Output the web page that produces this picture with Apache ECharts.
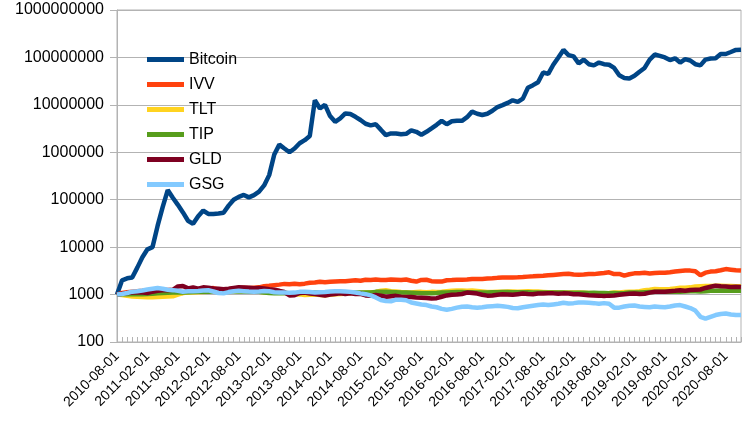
<!DOCTYPE html>
<html>
<head>
<meta charset="utf-8">
<script src="https://cdn.jsdelivr.net/npm/echarts@6/dist/echarts.min.js"></script>
<style>html,body{margin:0;padding:0;background:#fff}#c{width:756px;height:445px}</style>
</head>
<body>
<div id="c"></div>
<script>
// Monthly categories 2010-08-01 .. 2020-11-01
const categories = [];
for (let y = 2010, m = 8; y < 2020 || (y === 2020 && m <= 11); ) {
  categories.push(y + '-' + String(m).padStart(2, '0') + '-01');
  m++; if (m > 12) { m = 1; y++; }
}
const seriesNames = ['Bitcoin', 'IVV', 'TLT', 'TIP', 'GLD', 'GSG'];
const bitcoin = [1000,2000,2200,2300,3700,6100,9000,10000,28000,70000,160000,110000,78000,54000,36000,31000,45000,59000,50000,50000,51000,53000,75000,100000,115000,126000,112000,125000,148000,200000,330000,900000,1450000,1200000,1000000,1200000,1550000,1800000,2200000,12500000,8400000,10000000,5800000,4400000,5200000,6600000,6400000,5600000,4800000,4000000,3700000,3900000,3000000,2300000,2500000,2500000,2400000,2450000,2900000,2700000,2350000,2700000,3200000,3800000,4600000,3900000,4500000,4600000,4600000,5500000,7200000,6500000,6100000,6500000,7500000,9000000,9900000,11000000,12500000,11500000,13500000,23000000,26000000,30000000,48000000,45000000,70000000,100000000,144000000,112000000,105000000,75000000,90000000,72000000,68000000,78000000,72000000,70000000,60000000,42000000,37000000,36000000,41000000,50000000,60000000,90000000,115000000,108000000,100000000,88000000,96000000,78000000,92000000,86000000,72000000,68000000,90000000,95000000,96000000,118000000,118000000,130000000,144000000,145000000];
const ivv = [1000,1080,1120,1150,1170,1200,1240,1240,1280,1270,1250,1230,1150,1080,1190,1180,1230,1280,1330,1370,1280,1240,1300,1340,1370,1400,1380,1400,1420,1500,1530,1580,1620,1680,1650,1700,1650,1700,1780,1800,1860,1820,1860,1880,1900,1920,1960,2000,1960,2050,2040,2080,2040,2020,2080,2060,2030,2080,1960,1880,2040,2050,1920,1880,1880,2000,2020,2050,2050,2080,2130,2120,2130,2170,2200,2250,2280,2300,2300,2320,2350,2390,2420,2460,2500,2550,2600,2650,2700,2750,2650,2620,2650,2700,2700,2780,2850,2950,2700,2720,2500,2680,2800,2830,2880,2780,2850,2900,2880,2950,3050,3150,3200,3200,3100,2550,2900,3050,3100,3250,3450,3350,3250,3200];
const tlt = [1000,980,940,910,900,890,880,880,890,900,910,920,1000,1080,1100,1110,1120,1130,1150,1180,1200,1190,1170,1180,1160,1150,1160,1140,1150,1120,1110,1100,1130,1120,1040,1000,1010,980,990,1000,980,970,990,1010,1030,1040,1060,1060,1080,1100,1120,1140,1200,1230,1180,1160,1130,1120,1110,1130,1140,1120,1140,1130,1150,1180,1200,1220,1220,1210,1220,1190,1160,1130,1130,1140,1150,1160,1160,1150,1160,1170,1160,1160,1140,1120,1120,1110,1100,1100,1100,1100,1090,1080,1070,1060,1070,1080,1100,1110,1130,1150,1150,1180,1230,1260,1310,1290,1290,1310,1350,1390,1390,1420,1480,1500,1510,1510,1530,1540,1520,1510,1500,1500];
const tip = [1000,1010,1020,1020,1010,1020,1030,1040,1060,1080,1090,1100,1120,1110,1120,1130,1140,1150,1140,1160,1160,1170,1170,1170,1160,1170,1150,1150,1140,1100,1080,1060,1070,1060,1070,1060,1080,1090,1100,1100,1110,1110,1100,1110,1110,1100,1110,1110,1110,1110,1110,1140,1150,1140,1130,1120,1110,1100,1090,1080,1070,1060,1070,1080,1100,1110,1120,1130,1130,1120,1120,1110,1110,1110,1120,1120,1130,1130,1120,1120,1120,1120,1110,1100,1100,1100,1100,1100,1100,1090,1090,1090,1090,1080,1090,1080,1080,1070,1080,1070,1080,1100,1110,1110,1120,1130,1140,1140,1140,1150,1150,1150,1160,1170,1170,1160,1180,1200,1210,1220,1210,1200,1200,1200];
const gld = [1000,1040,1080,1100,1120,1100,1080,1150,1200,1230,1240,1260,1480,1520,1350,1420,1330,1420,1400,1350,1330,1300,1330,1380,1420,1410,1400,1360,1380,1350,1300,1260,1200,1130,960,970,1080,1100,1050,1030,990,950,1000,1030,1060,1030,1060,1030,1040,960,940,980,950,900,920,940,900,890,890,870,860,850,830,840,900,960,990,1000,1030,1100,1080,1050,990,950,960,990,1010,1000,990,1020,1050,1030,1020,1050,1050,1070,1060,1040,1060,1050,1020,1010,990,970,960,950,930,950,960,990,1020,1040,1050,1030,1040,1100,1150,1140,1150,1180,1200,1230,1210,1250,1270,1280,1380,1460,1540,1500,1480,1440,1470,1450];
const gsg = [1000,1030,1080,1150,1180,1220,1280,1330,1380,1330,1260,1240,1200,1150,1170,1180,1190,1220,1230,1160,1080,1060,1130,1180,1200,1180,1160,1150,1160,1190,1170,1120,1110,1100,1090,1100,1140,1150,1130,1110,1120,1130,1160,1170,1170,1160,1140,1110,1060,1020,960,870,770,730,720,780,780,760,680,650,620,600,560,540,500,480,500,530,555,560,540,530,540,560,570,580,570,550,520,515,540,560,580,600,620,600,620,640,670,650,660,680,680,670,660,640,660,640,530,530,560,580,590,560,550,540,560,550,540,560,590,600,560,520,460,340,310,340,370,390,400,380,370,370];
const yTicks = [100, 1000, 10000, 100000, 1000000, 10000000, 100000000, 1000000000];

const colors = ['#004586', '#ff420e', '#ffd320', '#579d1c', '#7e0021', '#83caff'];
const dataSets = [bitcoin, ivv, tlt, tip, gld, gsg];
const FONT = "'Liberation Sans', Arial, sans-serif";

const chart = echarts.init(document.getElementById('c'));
chart.setOption({
  animation: false,
  backgroundColor: '#ffffff',
  color: colors,
  textStyle: { fontFamily: FONT },
  grid: { left: 117, right: 15, top: 10, bottom: 103, show: true, borderColor: '#b3b3b3', borderWidth: 1, containLabel: false },
  legend: {
    orient: 'vertical', left: 142, top: 46,
    itemWidth: 37, itemHeight: 5, itemGap: 8,
    icon: 'rect',
    data: seriesNames,
    textStyle: { fontSize: 16, color: '#000', fontFamily: FONT, lineHeight: 17 }
  },
  xAxis: {
    type: 'category', data: categories, boundaryGap: false,
    axisLine: { lineStyle: { color: '#b3b3b3' } },
    axisTick: { interval: 0, length: 5, inside: true, lineStyle: { color: '#b3b3b3' } },
    axisLabel: { interval: 5, rotate: 45, fontSize: 14, color: '#000', margin: 12, fontFamily: FONT },
    splitLine: { show: false }
  },
  yAxis: {
    type: 'log', logBase: 10, min: yTicks[0], max: yTicks[yTicks.length - 1],
    axisLine: { show: true, lineStyle: { color: '#b3b3b3' } },
    axisTick: { show: true, length: 7, lineStyle: { color: '#b3b3b3' } },
    axisLabel: { fontSize: 16, color: '#000', margin: 13, fontFamily: FONT, formatter: v => String(Math.round(v)) },
    splitLine: { lineStyle: { color: '#b3b3b3', width: 1 } },
    minorTick: { show: false }
  },
  series: seriesNames.map((n, k) => ({
    name: n, type: 'line', data: dataSets[k], showSymbol: false, symbol: 'none',
    lineStyle: { width: 4.5, color: colors[k] }, itemStyle: { color: colors[k] }
  }))
});
</script>
</body>
</html>
